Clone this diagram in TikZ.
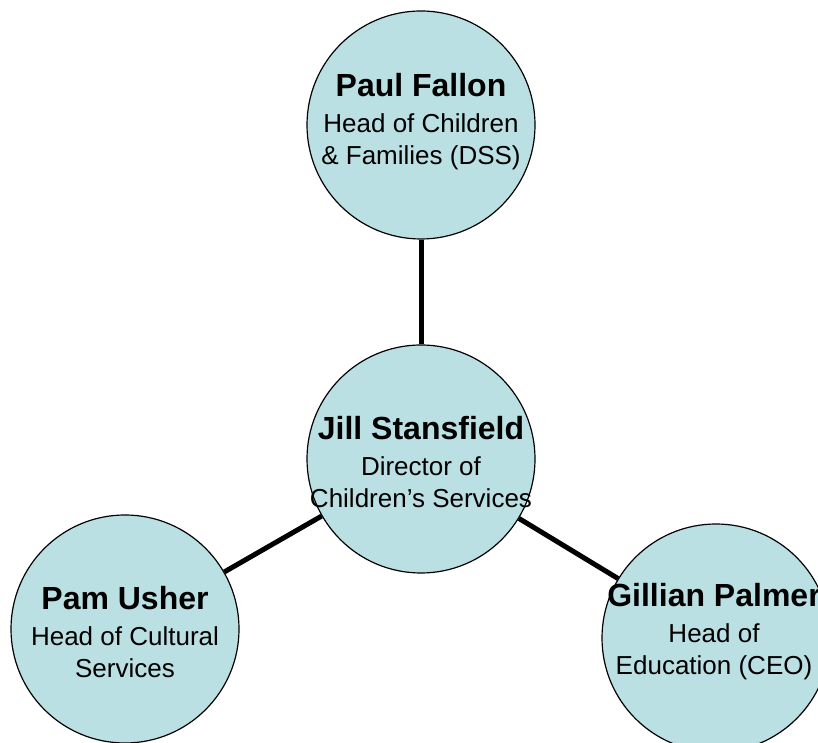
\documentclass[tikz,border=0pt]{standalone}
\usepackage{fontspec}
\setmainfont{Liberation Sans}
\definecolor{bubble}{RGB}{187,224,227}

\begin{document}
\begin{tikzpicture}[x=1pt,y=1pt,
        person/.style={circle,draw=black,line width=1.2pt,fill=bubble,minimum size=228pt,inner sep=0pt},
        info/.style={align=center,inner sep=0pt,font=\fontsize{26}{32}\selectfont},
        link/.style={line width=5pt}]
        \useasboundingbox (0,0) rectangle (818,743);
        \node[person] (paul) at (421,618) {};
        \node[person] (jill) at (421,284) {};
        \node[person] (pam) at (125,114) {};
        \node[person] (gillian) at (716,105) {};
        \draw[link] (jill) -- (paul);
        \draw[link] (jill) -- (pam);
        \draw[link] (jill) -- (gillian);
        \node[info] (paul-txt) at (421,621) {{\fontsize{32}{32}\selectfont\bfseries Paul Fallon}\\[4pt] Head of Children\\ \& Families (DSS)};
        \node[info] (jill-txt) at (421,281) {{\fontsize{32}{32}\selectfont\bfseries Jill Stansfield}\\[4pt] Director of\\ Children’s Services};
        \node[info] (pam-txt) at (125,111) {{\fontsize{32}{32}\selectfont\bfseries Pam Usher}\\[4pt] Head of Cultural\\ Services};
        \node[info] (gillian-txt) at (714,111) {{\fontsize{32}{32}\selectfont\bfseries Gillian Palmer}\\[4pt] Head of\\ Education (CEO)};
    \end{tikzpicture}
\end{document}
